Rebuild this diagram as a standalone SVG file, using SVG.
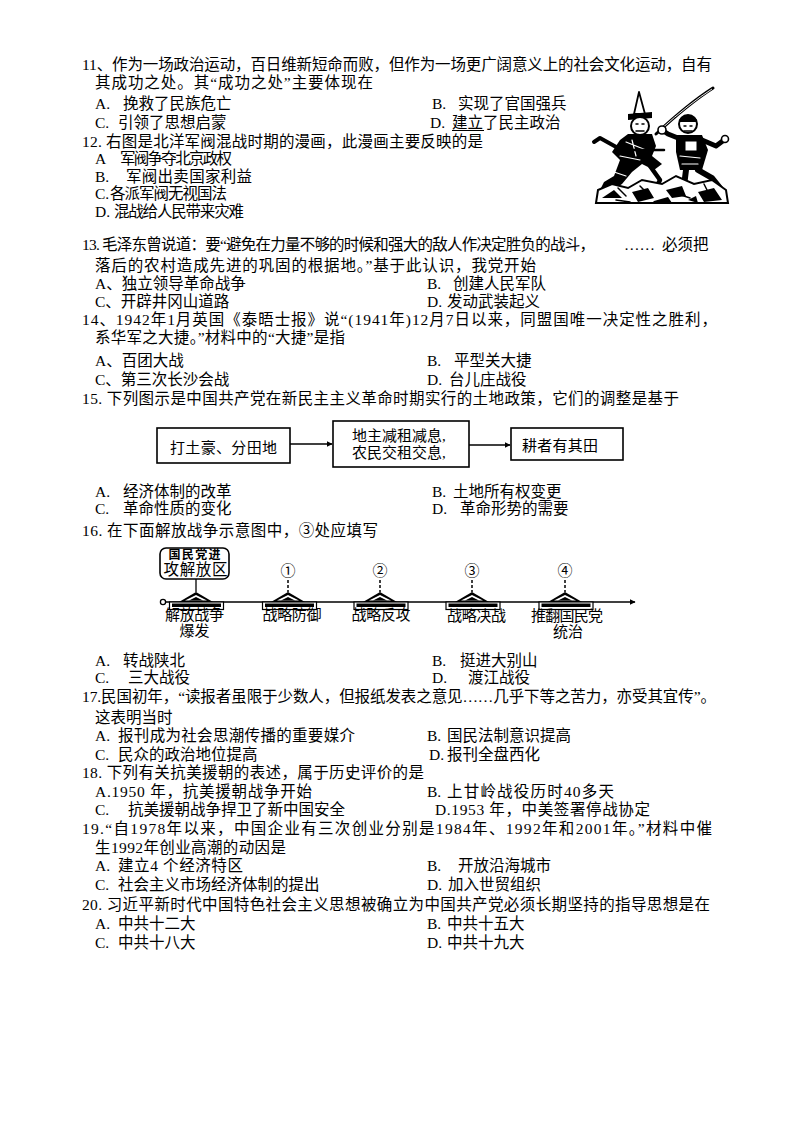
<svg xmlns="http://www.w3.org/2000/svg" width="793" height="1121" viewBox="0 0 793 1121">
<style>
text{font-family:"Liberation Serif","Noto Sans CJK SC",serif;font-size:15.5px;fill:#000}
.s{font-size:15px}
.b{font-size:12px;font-weight:bold}
.box{fill:#fff;stroke:#000;stroke-width:1.6}
.conn{fill:none;stroke:#000;stroke-width:1.3}
.dash{stroke:#000;stroke-width:1.5;stroke-dasharray:3 2}
.ink{fill:#000}
.ln{fill:none;stroke:#000;stroke-linecap:round;stroke-linejoin:round}
.wl{fill:none;stroke:#fff;stroke-linecap:round}
</style>
<defs>
<marker id="ah" viewBox="0 0 10 10" refX="9" refY="5" markerWidth="6" markerHeight="6" orient="auto" markerUnits="userSpaceOnUse"><path d="M0,0 L10,5 L0,10 z" fill="#000"/></marker>
<g id="tri"><polygon points="0,-10 -17,0 17,0" fill="#000"/><polygon points="0,-7 -11,-1.6 11,-1.6" fill="#fff"/><polygon points="0,-5 -7,-1.6 7,-1.6" fill="#000"/></g>
<g id="bar"><rect x="-27" y="0" width="54" height="7.5" fill="#fff" stroke="#000" stroke-width="1.2"/><rect x="-24.5" y="1.5" width="49" height="3.5" fill="#000"/></g>
</defs>
<rect width="793" height="1121" fill="#fff"/>

<g id="q11">
<text x="82" y="70" textLength="630">11、作为一场政治运动，百日维新短命而败，但作为一场更广阔意义上的社会文化运动，自有</text>
<text x="95" y="88" textLength="278">其成功之处。其“成功之处”主要体现在</text>
<text x="95" y="109">A.</text><text x="123" y="109">挽救了民族危亡</text>
<text x="432" y="109">B.</text><text x="458" y="109">实现了官国强兵</text>
<text x="95" y="128">C.</text><text x="118" y="128">引领了思想启蒙</text>
<text x="430" y="128">D.</text><text x="452" y="128">建立了民主政治</text>
<line x1="452" y1="130.5" x2="484" y2="130.5" stroke="#000" stroke-width="1"/>
</g>

<g id="q12">
<text x="82" y="146.5" textLength="401">12. 右图是北洋军阀混战时期的漫画，此漫画主要反映的是</text>
<text x="95" y="163.5">A</text><text x="120" y="163.5" textLength="112">军阀争夺北京政权</text>
<text x="95" y="181.5">B.</text><text x="126" y="181.5" textLength="126">军阀出卖国家利益</text>
<text x="95" y="198.5">C.</text><text x="110" y="198.5" textLength="117">各派军阀无视国法</text>
<text x="95" y="216.5">D.</text><text x="114" y="216.5" textLength="130">混战给人民带来灾难</text>
</g>

<g id="cartoon">
<path class="ln" d="M656,134 Q688,104 713,88" stroke-width="3"/>
<path d="M712,89 Q690,103 660,130" fill="none" stroke="#fff" stroke-width="0.9"/>
<polygon points="634,114 639,92 645,114" fill="#fff" stroke="#000" stroke-width="1.8" stroke-linejoin="round"/>
<path class="ink" d="M628,114 L652,112 L652,118 L628,120 z"/>
<ellipse cx="640" cy="126" rx="9" ry="9" fill="#fff" stroke="#000" stroke-width="2"/>
<path class="ln" d="M636,124 L638,124 M642,124 L644,124 M636,131 L644,131" stroke-width="1.5"/>
<path class="ink" d="M628,134 L652,134 L656,146 L652,156 L662,164 L654,170 L642,164 L632,172 L622,184 L610,192 L600,190 L604,182 L614,176 L620,160 L612,152 L620,140 z"/>
<path class="wl" d="M626,142 L646,150 M620,156 L640,160 M614,172 L626,176 M632,140 L636,156" stroke-width="1.2"/>
<path class="ln" d="M618,148 L600,138 L594,142" stroke-width="4"/>
<path class="ln" d="M630,150 L664,150" stroke-width="2.5"/>
<path class="ln" d="M650,166 L660,180 L654,192" stroke-width="4.5"/>
<circle cx="688" cy="124" r="9" fill="#fff" stroke="#000" stroke-width="2"/>
<path class="ink" d="M679,120 Q688,110 697,120 L697,122 L679,122 z"/>
<path class="ln" d="M684,126 L686,126 M690,126 L692,126 M684,131 L692,131" stroke-width="1.4"/>
<path class="ink" d="M676,135 L702,135 L708,150 L702,170 L680,170 L676,152 z"/>
<rect x="685" y="141" width="12" height="10" fill="#fff" stroke="#000" stroke-width="1"/>
<path class="wl" d="M680,156 L700,158 M682,164 L698,164" stroke-width="1.2"/>
<path class="ln" d="M702,140 L716,146 L724,140" stroke-width="5"/>
<circle cx="725" cy="139" r="3.5" fill="#fff" stroke="#000" stroke-width="1.6"/>
<path class="ln" d="M678,138 L668,134 L662,130" stroke-width="5"/>
<circle cx="662" cy="130" r="4" fill="#fff" stroke="#000" stroke-width="1.6"/>
<path class="ln" d="M686,170 L684,186" stroke-width="6"/>
<path class="ln" d="M698,170 L712,178 L720,188" stroke-width="6"/>
<path d="M596,203 L598,190 L612,184 L628,188 L642,180 L662,184 L676,176 L694,184 L712,180 L726,190 L728,203 z" fill="#fff" stroke="#000" stroke-width="2"/>
<path class="ink" d="M602,198 L614,190 L622,198 z M632,192 L648,188 L654,198 L638,202 z M666,190 L682,186 L686,196 L672,198 z M698,192 L714,188 L722,200 L704,202 z M654,201 L668,197 L672,203 L652,203 z M688,200 L696,196 L698,203 z"/>
<path class="ln" d="M618,188 L626,196 M678,194 L690,198 M704,184 L708,192 M640,186 L646,192 M616,200 L630,202" stroke-width="1.5"/>
</g>

<g id="q13">
<text x="82" y="249.5" textLength="513">13. 毛泽东曾说道：要“避免在力量不够的时候和强大的敌人作决定胜负的战斗，</text>
<text x="624" y="249.5">……</text>
<text x="662" y="249.5">必须把</text>
<text x="95" y="270.5" textLength="441">落后的农村造成先进的巩固的根据地。”基于此认识，我党开始</text>
<text x="95" y="288.5">A、独立领导革命战争</text>
<text x="427" y="288.5">B.</text><text x="453" y="288.5">创建人民军队</text>
<text x="95" y="306.5">C、开辟井冈山道路</text>
<text x="427" y="306.5">D.</text><text x="447" y="306.5">发动武装起义</text>
</g>

<g id="q14">
<text x="82" y="324.5" textLength="635">14、1942年1月英国《泰晤士报》说“(1941年)12月7日以来，同盟国唯一决定性之胜利，</text>
<text x="95" y="342.5" textLength="250">系华军之大捷。”材料中的“大捷”是指</text>
<text x="95" y="365.5">A、百团大战</text>
<text x="427" y="365.5">B.</text><text x="454" y="365.5">平型关大捷</text>
<text x="95" y="384.5">C、第三次长沙会战</text>
<text x="427" y="384.5">D.</text><text x="449" y="384.5">台儿庄战役</text>
</g>

<g id="q15">
<text x="82" y="403.5" textLength="597">15. 下列图示是中国共产党在新民主主义革命时期实行的土地政策，它们的调整是基于</text>
<text x="95" y="496.5">A.</text><text x="123" y="496.5">经济体制的改革</text>
<text x="432" y="496.5">B.</text><text x="453" y="496.5">土地所有权变更</text>
<text x="95" y="513.5">C.</text><text x="123" y="513.5">革命性质的变化</text>
<text x="432" y="513.5">D.</text><text x="460" y="513.5">革命形势的需要</text>
</g>

<g id="node-dtfd">
<rect class="box" x="157" y="428" width="133" height="35"/>
<text class="s" x="170" y="453" textLength="107">打土豪、分田地</text>
</g>
<g id="node-jzjx">
<rect class="box" x="333" y="421" width="136" height="46"/>
<text class="s" x="352" y="441">地主减租减息,</text>
<text class="s" x="352" y="458">农民交租交息,</text>
</g>
<g id="node-gzyqt">
<rect class="box" x="511" y="428" width="112" height="32"/>
<text class="s" x="522" y="451" textLength="76">耕者有其田</text>
</g>

<g id="q16">
<text x="82" y="535.5" textLength="296">16. 在下面解放战争示意图中，③处应填写</text>
<text x="95" y="665.5">A.</text><text x="123" y="665.5">转战陕北</text>
<text x="432" y="665.5">B.</text><text x="460" y="665.5">挺进大别山</text>
<text x="95" y="682.5">C.</text><text x="128" y="682.5">三大战役</text>
<text x="432" y="682.5">D.</text><text x="468" y="682.5">渡江战役</text>
</g>

<g id="connectors">
<line class="conn" x1="290" y1="444" x2="332" y2="444" marker-end="url(#ah)"/>
<line class="conn" x1="469" y1="445" x2="510" y2="445" marker-end="url(#ah)"/>
<line class="conn" x1="165.5" y1="602" x2="635" y2="602" marker-end="url(#ah)"/>
<line class="conn" x1="196" y1="579" x2="196" y2="592"/>
<line class="dash" x1="288" y1="580" x2="288" y2="592"/>
<line class="dash" x1="380" y1="580" x2="380" y2="592"/>
<line class="dash" x1="472" y1="580" x2="472" y2="592"/>
<line class="dash" x1="565" y1="580" x2="565" y2="592"/>
</g>

<g id="tl-start"><circle cx="163" cy="602" r="2.6" fill="#fff" stroke="#000" stroke-width="1.3"/></g>

<g id="tl-callout">
<rect x="160" y="548" width="69" height="31" rx="6" fill="#fff" stroke="#000" stroke-width="1.6"/>
<text class="b" x="194.5" y="559" text-anchor="middle" textLength="52">国民党进</text>
<text x="195.5" y="575" text-anchor="middle" font-size="16" textLength="64">攻解放区</text>
</g>

<g id="tl-node0">
<use href="#tri" x="196" y="602"/><use href="#bar" x="196.5" y="602"/>
<text class="s" x="194.5" y="620" text-anchor="middle" textLength="59">解放战争</text>
<text class="s" x="194.5" y="636" text-anchor="middle">爆发</text>
</g>
<g id="tl-node1">
<text class="s" x="288" y="575.5" text-anchor="middle">①</text>
<use href="#tri" x="288" y="602"/><use href="#bar" x="289.5" y="602"/>
<text class="s" x="292" y="620" text-anchor="middle" textLength="59">战略防御</text>
</g>
<g id="tl-node2">
<text class="s" x="380" y="575.5" text-anchor="middle">②</text>
<use href="#tri" x="380" y="602"/><use href="#bar" x="381" y="602"/>
<text class="s" x="381" y="620" text-anchor="middle" textLength="59">战略反攻</text>
</g>
<g id="tl-node3">
<text class="s" x="472" y="575.5" text-anchor="middle">③</text>
<use href="#tri" x="472" y="602"/><use href="#bar" x="473" y="602"/>
<text class="s" x="476.5" y="621" text-anchor="middle" textLength="59">战略决战</text>
</g>
<g id="tl-node4">
<text class="s" x="565" y="575.5" text-anchor="middle">④</text>
<use href="#tri" x="565" y="602"/><use href="#bar" x="566" y="602"/>
<text class="s" x="567" y="621" text-anchor="middle" textLength="72">推翻国民党</text>
<text class="s" x="568" y="637" text-anchor="middle">统治</text>
</g>

<g id="q17">
<text x="82" y="701.5" textLength="634">17.民国初年，“读报者虽限于少数人，但报纸发表之意见……几乎下等之苦力，亦受其宜传”。</text>
<text x="95" y="722.5">这表明当时</text>
<text x="95" y="740.5">A.</text><text x="118" y="740.5" textLength="237">报刊成为社会思潮传播的重要媒介</text>
<text x="427" y="740.5">B.</text><text x="447" y="740.5">国民法制意识提高</text>
<text x="95" y="759.5">C.</text><text x="118" y="759.5">民众的政治地位提高</text>
<text x="429" y="759.5">D.</text><text x="447" y="759.5">报刊全盘西化</text>
</g>

<g id="q18">
<text x="82" y="777.5" textLength="342">18. 下列有关抗美援朝的表述，属于历史评价的是</text>
<text x="95" y="796.5" textLength="217">A.1950 年，抗美援朝战争开始</text>
<text x="427" y="796.5">B.</text><text x="447" y="796.5" textLength="167">上甘岭战役历时40多天</text>
<text x="95" y="814.5">C.</text><text x="128" y="814.5">抗美援朝战争捍卫了新中国安全</text>
<text x="435" y="814.5" textLength="215">D.1953 年，中美签署停战协定</text>
</g>

<g id="q19">
<text x="82" y="833.5" textLength="630">19.“自1978年以来，中国企业有三次创业分别是1984年、1992年和2001年。”材料中催</text>
<text x="95" y="852.5" textLength="191">生1992年创业高潮的动因是</text>
<text x="95" y="870.5">A.</text><text x="118" y="870.5" textLength="125">建立4 个经济特区</text>
<text x="427" y="870.5">B.</text><text x="458" y="870.5">开放沿海城市</text>
<text x="95" y="889.5">C.</text><text x="118" y="889.5">社会主义市场经济体制的提出</text>
<text x="427" y="889.5">D.</text><text x="448" y="889.5">加入世贸组织</text>
</g>

<g id="q20">
<text x="82" y="909.5" textLength="628">20. 习近平新时代中国特色社会主义思想被确立为中国共产党必须长期坚持的指导思想是在</text>
<text x="95" y="928.5">A.</text><text x="118" y="928.5">中共十二大</text>
<text x="427" y="928.5">B.</text><text x="447" y="928.5">中共十五大</text>
<text x="95" y="947.5">C.</text><text x="118" y="947.5">中共十八大</text>
<text x="427" y="947.5">D.</text><text x="447" y="947.5">中共十九大</text>
</g>
</svg>
